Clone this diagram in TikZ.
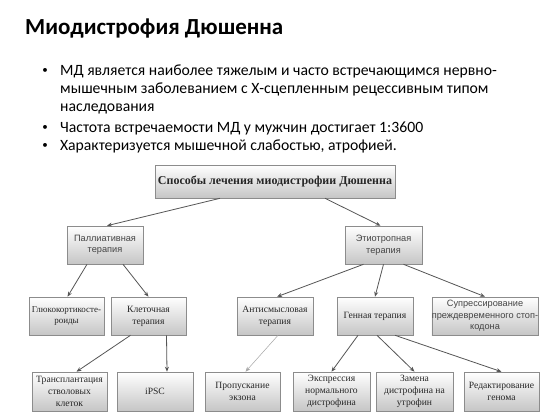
\documentclass[tikz,border=0pt]{standalone}
\usepackage{fontspec}
\setmainfont{Carlito}
\newfontfamily\tserif{Liberation Serif}
\newfontfamily\tsans{Liberation Sans}
\usetikzlibrary{arrows.meta,calc,shadows}
\definecolor{txt}{HTML}{262626}
\definecolor{stxt}{HTML}{444444}
\definecolor{edge}{HTML}{8C8C8C}
\definecolor{arr}{HTML}{555555}
\tikzset{
  box/.style={draw=edge, line width=0.6pt, top color=white, bottom color=gray!45,
    inner sep=0pt, align=center, text=txt,
    drop shadow={shadow xshift=1.2pt, shadow yshift=-1.2pt, fill=gray!60, opacity=0.45}},
  sbox/.style={box, font=\tserif\fontsize{9.6}{11.8}\selectfont},
  abox/.style={box, font=\tsans\fontsize{9.2}{11.5}\selectfont, text=stxt},
  conn/.style={draw=arr, line width=0.8pt, -{Stealth[length=5pt,width=4pt]}},
  bul/.style={anchor=base west, inner sep=0pt, font=\fontsize{15.7}{18}\selectfont},
  dot/.style={anchor=base, inner sep=0pt, font=\fontsize{11}{12}\selectfont},
}
\begin{document}
\begin{tikzpicture}[x=1pt,y=-1pt]
\useasboundingbox[fill=white] (0,0) rectangle (560,420);
% title and bullets
\node[anchor=base west, inner sep=0pt, font=\bfseries\fontsize{23}{28}\selectfont] (title) at (25,35) {Миодистрофия Дюшенна};
\node[dot] (b1) at (45,74) {•};
\node[bul] (l1) at (60,76) {МД является наиболее тяжелым и часто встречающимся нервно-};
\node[bul] (l2) at (60,94) {мышечным заболеванием с Х-сцепленным рецессивным типом};
\node[bul] (l3) at (60,112) {наследования};
\node[dot] (b2) at (45,130) {•};
\node[bul] (l4) at (60,132) {Частота встречаемости МД у мужчин достигает 1:3600};
\node[dot] (b3) at (45,148) {•};
\node[bul] (l5) at (60,150) {Характеризуется мышечной слабостью, атрофией.};
% diagram nodes
\node[box, font=\tserif\bfseries\fontsize{12}{14}\selectfont, minimum width=240pt, minimum height=33pt] (root) at (275,181.5) {Способы лечения миодистрофии Дюшенна};
\node[abox, minimum width=76pt, minimum height=38pt] (pal) at (105,245) {Паллиативная\\терапия};
\node[abox, minimum width=77pt, minimum height=38pt] (eti) at (383.5,245) {Этиотропная\\терапия};
\node[sbox, font=\tserif\fontsize{9}{11.8}\selectfont, minimum width=75pt, minimum height=38pt] (glu) at (66.5,316) {Глюкокортикосте-\\роиды};
\node[sbox, minimum width=75pt, minimum height=38pt] (cell) at (148.5,316) {Клеточная\\терапия};
\node[sbox, minimum width=76pt, minimum height=38pt] (anti) at (275,316) {Антисмысловая\\терапия};
\node[sbox, minimum width=76pt, minimum height=38pt] (gene) at (375,316) {Генная терапия};
\node[abox, minimum width=106pt, minimum height=38pt] (sup) at (485,316) {Супрессирование\\преждевременного стоп-\\кодона};
\node[sbox, minimum width=75pt, minimum height=39pt] (trans) at (69.5,391.5) {Трансплантация\\стволовых\\клеток};
\node[sbox, minimum width=76pt, minimum height=39pt] (ipsc) at (155,391.5) {iPSC};
\node[sbox, minimum width=75pt, minimum height=39pt] (exon) at (242.5,391.5) {Пропускание\\экзона};
\node[sbox, minimum width=77pt, minimum height=39pt] (expr) at (331.5,391.5) {Экспрессия\\нормального\\дистрофина};
\node[sbox, minimum width=77pt, minimum height=39pt] (repl) at (414.5,391.5) {Замена\\дистрофина на\\утрофин};
\node[sbox, minimum width=75pt, minimum height=39pt] (edit) at (501.5,391.5) {Редактирование\\генома};
% connectors
\draw[conn] ($(root.south)+(-55,0)$) -- ($(pal.north)+(2,0)$);
\draw[conn] ($(root.south)+(50,0)$) -- ($(eti.north)+(-3,0)$);
\draw[conn] ($(pal.south)+(-18,0)$) -- ($(glu.north)+(1,0)$);
\draw[conn] ($(pal.south)+(18,0)$) -- (cell.north);
\draw[conn] ($(eti.south)+(-20,0)$) -- ($(anti.north)+(2,0)$);
\draw[conn] (eti.south) -- (gene.north);
\draw[conn] ($(eti.south)+(20,0)$) -- (sup.north);
\draw[conn] ($(cell.south)+(-18,0)$) -- ($(trans.north)+(7,0)$);
\draw[conn] ($(cell.south)+(18,0)$) -- ($(ipsc.north)+(12,0)$);
\draw[conn, draw=gray!70, line width=0.5pt] ($(anti.south)+(3,0)$) -- ($(exon.north)+(3,0)$);
\draw[conn] ($(gene.south)+(-17,0)$) -- (expr.north);
\draw[conn] ($(gene.south)+(2,0)$) -- (repl.north);
\draw[conn] ($(gene.south)+(20,0)$) -- (edit.north);
\end{tikzpicture}
\end{document}
